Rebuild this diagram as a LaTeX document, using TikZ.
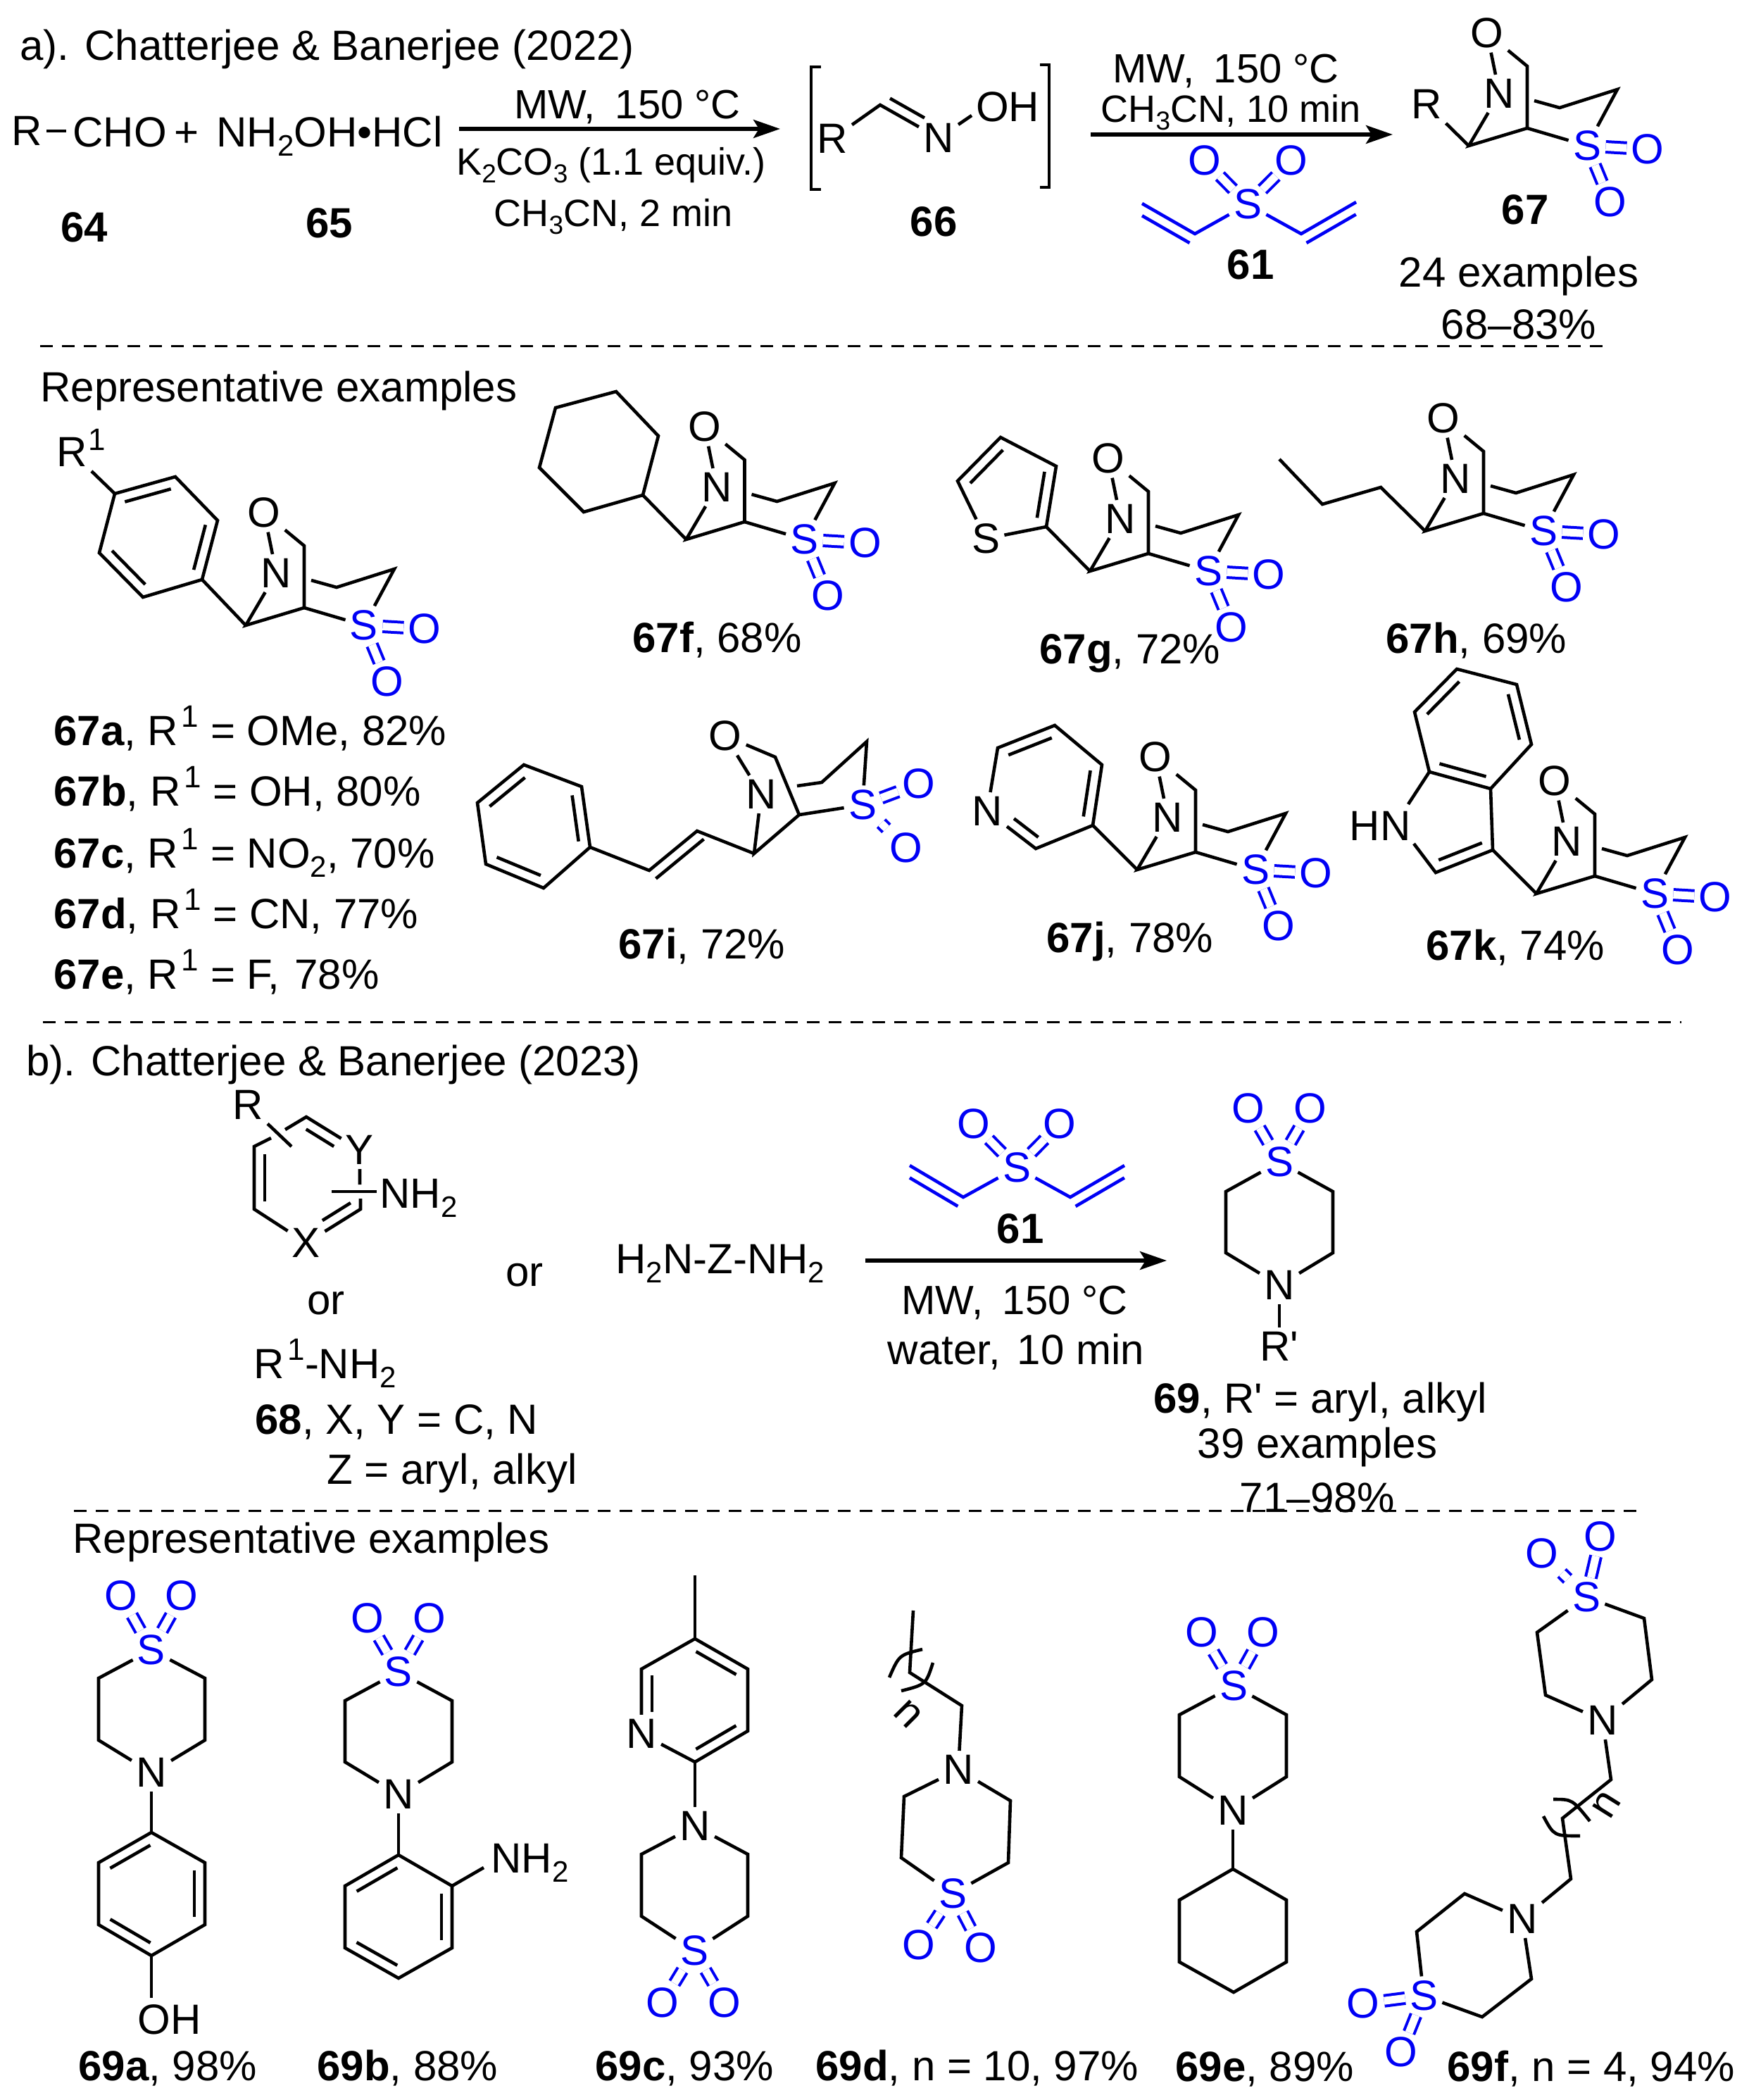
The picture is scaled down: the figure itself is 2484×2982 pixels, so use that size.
\documentclass[tikz,border=0pt]{standalone}
\usepackage{fontspec}
\setmainfont{Liberation Sans}
\newfontfamily\plainf{Liberation Sans}
\usetikzlibrary{calc,arrows.meta}
\definecolor{sblue}{RGB}{0,0,245}
\newcommand{\sbs}[1]{\raisebox{-0.22em}{\fontsize{21}{24}\selectfont #1}}
\newcommand{\sps}[1]{\hspace{0.08em}\raisebox{0.42em}{\fontsize{22}{24}\selectfont #1}}
\newcommand{\csbs}[1]{\raisebox{-0.22em}{\fontsize{18.5}{22}\selectfont #1}}
\newcommand{\apos}{{\plainf '}}
\tikzset{
  every node/.style={font=\fontsize{30}{36}\selectfont},
  atom/.style={inner sep=3pt,text=black},
  satom/.style={inner sep=3pt,text=sblue},
  lab/.style={anchor=base west,inner sep=0pt},
  clab/.style={anchor=base,inner sep=0pt},
  bond/.style={draw=black,line width=2.3pt,line join=miter},
  vbond/.style={draw=sblue,line width=2.3pt,line join=miter},
  sdouble/.style={draw=sblue,line width=2pt,double=white,double distance=5.5pt},
  vdouble/.style={sdouble,shorten >=-4pt,shorten <=-4pt},
  rxn/.style={draw=black,line width=2.6pt,-{Stealth[length=19pt,width=13pt,inset=4pt]}},
  brk/.style={draw=black,line width=2.4pt,line join=miter},
  sep/.style={draw=black,line width=1.5pt,dash pattern=on 9pt off 6.5pt},
  cond/.style={font=\fontsize{27}{32}\selectfont}
}
% inner line of a double bond, on the right-hand side (on screen) of a->b
\newcommand{\ilf}[4]{\draw[bond] ($(#1)!#3!(#2)!7.5pt!-90:(#2)$) -- ($(#2)!#4!(#1)!7.5pt!90:(#1)$);}
\newcommand{\il}[2]{\ilf{#1}{#2}{0.12}{0.12}}
\newcommand{\vil}[4]{\draw[vbond] ($(#1)!#3!(#2)!7.5pt!-90:(#2)$) -- ($(#2)!#4!(#1)!7.5pt!90:(#1)$);}
% bicyclic isoxazolidine sulfone core, placed by its lower-left carbon
\newcommand{\oxcore}[3]{%
  \begin{scope}[shift={(#2,#3)}]
    \coordinate (#1-b) at (0,0);
    \coordinate (#1-t) at (83,-113);
    \coordinate (#1-c) at (83,-25);
    \coordinate (#1-f) at (93,-64);
    \coordinate (#1-d) at (129,-54);
    \coordinate (#1-e) at (211,-80);
    \node[atom] (#1-n) at (43.5,-74) {N};
    \node[atom] (#1-o) at (26,-160) {O};
    \node[satom] (#1-s) at (168,0) {S};
    \node[satom] (#1-p) at (254,5) {O};
    \node[satom] (#1-q) at (201,80) {O};
    \draw[bond] (#1-o) -- (#1-t) -- (#1-c) -- (#1-b) -- (#1-n) -- (#1-o);
    \draw[bond] (#1-c) -- (#1-s);
    \draw[bond] (#1-f) -- (#1-d) -- (#1-e) -- (#1-s);
    \draw[sdouble] (#1-s) -- (#1-p);
    \draw[sdouble] (#1-s) -- (#1-q);
  \end{scope}}
% thiomorpholine dioxide: prefix, S, N, O, O, then ring carbons S-c1-c2-N-c3-c4-S
\newcommand{\tmring}[9]{%
  \node[satom] (#1-s) at (#2) {S};
  \node[atom] (#1-n) at (#3) {N};
  \node[satom] (#1-o) at (#4) {O};
  \node[satom] (#1-p) at (#5) {O};
  \coordinate (#1-1) at (#6);
  \coordinate (#1-2) at (#7);
  \coordinate (#1-3) at (#8);
  \coordinate (#1-4) at (#9);
  \draw[bond] (#1-s) -- (#1-1) -- (#1-2) -- (#1-n) -- (#1-3) -- (#1-4) -- (#1-s);
  \draw[sdouble] (#1-s) -- (#1-o);
  \draw[sdouble] (#1-s) -- (#1-p);}
\begin{document}
\begin{tikzpicture}[x=0.5pt,y=-0.5pt]
\path[use as bounding box,fill=white] (0,0) rectangle (2484,2982);

% ---------- a) header
\node[lab] (ta) at (28,85) {a). Chatterjee \& Banerjee (2022)};
\node[atom] (r64) at (38,186) {R};
\node[lab] (cho) at (103,208) {CHO};
\coordinate (cho-w) at (94,186);
\draw[bond] (r64) -- (cho-w);
\node[lab] (plus) at (247,208) {+};
\node[lab] (nh2oh) at (307,208) {NH\sbs{2}OH•HCl};
\node[clab] (l64) at (120,343) {\textbf{64}};
\node[clab] (l65) at (468,337) {\textbf{65}};
\coordinate (a1s) at (652,183);
\coordinate (a1e) at (1108,183);
\draw[rxn] (a1s) -- (a1e);
\node[clab,font=\fontsize{29}{36}\selectfont] (c1a) at (891,168) {MW,\hspace{0.48em}150 °C};
\node[clab,cond] (c1b) at (868,248) {K\csbs{2}CO\csbs{3} (1.1 equiv.)};
\node[clab,cond] (c1c) at (871,321) {CH\csbs{3}CN, 2 min};

% ---------- 66
\coordinate (lb1) at (1166,95);
\coordinate (lb2) at (1152,95);
\coordinate (lb3) at (1152,269);
\coordinate (lb4) at (1166,269);
\draw[brk] (lb1) -- (lb2) -- (lb3) -- (lb4);
\coordinate (rb1) at (1477,92);
\coordinate (rb2) at (1490,92);
\coordinate (rb3) at (1490,266);
\coordinate (rb4) at (1477,266);
\draw[brk] (rb1) -- (rb2) -- (rb3) -- (rb4);
\node[atom] (r66) at (1182,197) {R};
\coordinate (c66) at (1250,149);
\node[atom] (n66) at (1333,196) {N};
\node[atom] (oh66) at (1431,152) {OH};
\coordinate (oh66e) at (1380,164);
\draw[bond] (r66) -- (c66) -- (n66) -- (oh66e);
\ilf{n66}{c66}{0.33}{0.08}
\node[clab] (l66) at (1326,335) {\textbf{66}};

% ---------- second arrow + 61
\coordinate (a2s) at (1549,191);
\coordinate (a2e) at (1978,191);
\draw[rxn] (a2s) -- (a2e);
\node[clab,font=\fontsize{29}{36}\selectfont] (c2a) at (1741,117) {MW,\hspace{0.48em}150 °C};
\node[clab,cond] (c2b) at (1748,173) {CH\csbs{3}CN, 10 min};
\node[satom] (v1s) at (1772,290) {S};
\node[satom] (v1o) at (1711,228) {O};
\node[satom] (v1p) at (1834,228) {O};
\draw[vdouble] (v1s) -- (v1o);
\draw[vdouble] (v1s) -- (v1p);
\coordinate (v1a) at (1697,332);
\coordinate (v1b) at (1622,289);
\coordinate (v1c) at (1848,332);
\coordinate (v1d) at (1926,287);
\draw[vbond] (v1s) -- (v1a) -- (v1b);
\draw[vbond] (v1s) -- (v1c) -- (v1d);
\vil{v1b}{v1a}{0.1}{0.0}
\vil{v1c}{v1d}{0.0}{0.1}
\node[clab] (l61a) at (1776,396) {\textbf{61}};

% ---------- 67
\oxcore{m}{2086}{207}
\node[atom] (mr) at (2026,148) {R};
\draw[bond] (mr) -- (m-b);
\node[clab] (l67) at (2166,318) {\textbf{67}};
\node[clab] (ex1) at (2157,407) {24 examples};
\node[clab] (ex2) at (2157,481) {68–83\%};
\coordinate (d1a) at (57,491);
\coordinate (d1b) at (2278,491);
\draw[sep] (d1a) -- (d1b);
\node[lab] (rep1) at (57,570) {Representative examples};

% ---------- 67a
\oxcore{a}{349}{888}
\coordinate (a-r1) at (163,701);
\coordinate (a-r2) at (249,677);
\coordinate (a-r3) at (309,739);
\coordinate (a-r4) at (287,823);
\coordinate (a-r5) at (203,848);
\coordinate (a-r6) at (141,785);
\draw[bond] (a-r1) -- (a-r2) -- (a-r3) -- (a-r4) -- (a-r5) -- (a-r6) -- cycle;
\draw[bond] (a-r4) -- (a-b);
\il{a-r1}{a-r2}
\il{a-r3}{a-r4}
\il{a-r5}{a-r6}
\node[atom] (a-R) at (102,642) {R};
\node[lab,font=\fontsize{22}{24}\selectfont] (a-R1) at (125,639) {1};
\draw[bond] (a-R) -- (a-r1);
\node[lab] (l67a) at (76,1058) {\textbf{67a}, R\sps{1} = OMe, 82\%};
\node[lab] (l67b) at (76,1144) {\textbf{67b}, R\sps{1} = OH, 80\%};
\node[lab] (l67c) at (76,1232) {\textbf{67c}, R\sps{1} = NO\sbs{2}, 70\%};
\node[lab] (l67d) at (76,1318) {\textbf{67d}, R\sps{1} = CN, 77\%};
\node[lab] (l67e) at (76,1404) {\textbf{67e}, R\sps{1} = F,\hspace{0.35em}78\%};

% ---------- 67f
\oxcore{f}{974.5}{766}
\coordinate (f-1) at (913,703);
\coordinate (f-2) at (935,619);
\coordinate (f-3) at (875,556);
\coordinate (f-4) at (789,579);
\coordinate (f-5) at (766,664);
\coordinate (f-6) at (829,727);
\draw[bond] (f-1) -- (f-2) -- (f-3) -- (f-4) -- (f-5) -- (f-6) -- cycle;
\draw[bond] (f-1) -- (f-b);
\node[lab] (l67f) at (898,926) {\textbf{67f}, 68\%};

% ---------- 67g
\oxcore{g}{1548}{811}
\coordinate (g-1) at (1486,748);
\coordinate (g-2) at (1500,662);
\coordinate (g-3) at (1421,621);
\coordinate (g-4) at (1360,683);
\node[atom] (g-s2) at (1400,765) {S};
\draw[bond] (g-s2) -- (g-1) -- (g-2) -- (g-3) -- (g-4) -- (g-s2);
\draw[bond] (g-1) -- (g-b);
\il{g-4}{g-3}
\il{g-2}{g-1}
\node[lab] (l67g) at (1476,942) {\textbf{67g}, 72\%};

% ---------- 67h
\oxcore{h}{2024}{754}
\coordinate (h-1) at (1961,692);
\coordinate (h-2) at (1878,716);
\coordinate (h-3) at (1817,652);
\draw[bond] (h-b) -- (h-1) -- (h-2) -- (h-3);
\node[lab] (l67h) at (1968,927) {\textbf{67h}, 69\%};

% ---------- 67i
\coordinate (i-b) at (1071,1212);
\coordinate (i-c) at (1135,1157);
\coordinate (i-t) at (1101,1075);
\coordinate (i-f) at (1132,1116);
\coordinate (i-d) at (1167,1111);
\coordinate (i-e) at (1231,1053);
\node[atom] (i-n) at (1081,1128) {N};
\node[atom] (i-o) at (1030,1045) {O};
\node[satom] (i-s) at (1225,1143) {S};
\node[satom] (i-p) at (1305,1113) {O};
\node[satom] (i-q) at (1287,1204) {O};
\draw[bond] (i-o) -- (i-t) -- (i-c) -- (i-b) -- (i-n) -- (i-o);
\draw[bond] (i-c) -- (i-s);
\draw[bond] (i-f) -- (i-d) -- (i-e) -- (i-s);
\draw[sdouble] (i-s) -- (i-p);
\draw[sdouble] (i-s) -- (i-q);
\coordinate (i-v1) at (990,1180);
\coordinate (i-v2) at (922,1236);
\coordinate (i-r1) at (838,1203);
\coordinate (i-r2) at (772,1261);
\coordinate (i-r3) at (690,1227);
\coordinate (i-r4) at (678,1140);
\coordinate (i-r5) at (744,1086);
\coordinate (i-r6) at (826,1117);
\draw[bond] (i-b) -- (i-v1) -- (i-v2) -- (i-r1) -- (i-r2) -- (i-r3) -- (i-r4) -- (i-r5) -- (i-r6) -- (i-r1);
\ilf{i-v2}{i-v1}{0.0}{0.0}
\il{i-r2}{i-r3}
\il{i-r4}{i-r5}
\il{i-r6}{i-r1}
\node[lab] (l67i) at (878,1361) {\textbf{67i}, 72\%};

% ---------- 67j
\oxcore{j}{1615}{1235}
\coordinate (j-1) at (1552,1172);
\coordinate (j-2) at (1565,1086);
\coordinate (j-3) at (1498,1030);
\coordinate (j-4) at (1417,1062);
\node[atom] (j-n2) at (1402,1152) {N};
\coordinate (j-5) at (1471,1205);
\draw[bond] (j-1) -- (j-2) -- (j-3) -- (j-4) -- (j-n2) -- (j-5) -- (j-1);
\draw[bond] (j-1) -- (j-b);
\il{j-4}{j-3}
\il{j-2}{j-1}
\ilf{j-5}{j-n2}{0.08}{0.42}
\node[lab] (l67j) at (1486,1352) {\textbf{67j}, 78\%};

% ---------- 67k
\oxcore{k}{2182}{1269}
\coordinate (k-1) at (2117,1120);
\coordinate (k-2) at (2175,1057);
\coordinate (k-3) at (2154,972);
\coordinate (k-4) at (2069,950);
\coordinate (k-5) at (2009,1011);
\coordinate (k-6) at (2030,1096);
\coordinate (k-7) at (2120,1207);
\coordinate (k-8) at (2039,1239);
\node[atom] (k-hn) at (1960,1173) {HN};
\coordinate (k-g) at (2000,1142);
\coordinate (k-h) at (2008,1198);
\draw[bond] (k-1) -- (k-2) -- (k-3) -- (k-4) -- (k-5) -- (k-6) -- cycle;
\draw[bond] (k-1) -- (k-7) -- (k-8) -- (k-h);
\draw[bond] (k-6) -- (k-g);
\draw[bond] (k-7) -- (k-b);
\il{k-1}{k-6}
\il{k-5}{k-4}
\il{k-3}{k-2}
\il{k-7}{k-8}
\node[lab] (l67k) at (2025,1363) {\textbf{67k}, 74\%};

\coordinate (d2a) at (61,1451);
\coordinate (d2b) at (2388,1451);
\draw[sep] (d2a) -- (d2b);

% ---------- b) header
\node[lab] (tb) at (37,1527) {b). Chatterjee \& Banerjee (2023)};
\node[atom] (x-R) at (352,1569) {R};
\coordinate (x-q) at (414,1628);
\draw[bond] (x-R) -- (x-q);
\coordinate (x-1) at (405,1604);
\coordinate (x-2) at (435,1586);
\node[atom] (x-Y) at (511,1633) {Y};
\coordinate (x-4) at (385,1616);
\coordinate (x-5) at (361,1628);
\coordinate (x-6) at (361,1717);
\node[atom] (x-X) at (435,1765) {X};
\coordinate (x-8) at (512,1717);
\coordinate (x-9) at (512,1702);
\coordinate (x-10) at (511,1682);
\draw[bond] (x-1) -- (x-2) -- (x-Y) -- (x-10);
\draw[bond] (x-4) -- (x-5) -- (x-6) -- (x-X) -- (x-8) -- (x-9);
\il{x-6}{x-5}
\ilf{x-2}{x-Y}{0.1}{0.38}
\ilf{x-8}{x-X}{0.08}{0.4}
\coordinate (x-a) at (471,1692);
\coordinate (x-b) at (535,1692);
\draw[bond] (x-a) -- (x-b);
\node[lab] (x-nh2) at (539,1715) {NH\sbs{2}};
\node[clab] (or1) at (463,1866) {or};
\node[clab] (or2) at (745,1826) {or};
\node[lab] (diam) at (874,1808) {H\sbs{2}N-Z-NH\sbs{2}};
\node[lab] (rnh2) at (360,1957) {R\sps{1}-NH\sbs{2}};
\node[lab] (l68) at (362,2036) {\textbf{68}, X, Y = C, N};
\node[lab] (lz) at (464,2107) {Z = aryl, alkyl};

% ---------- 61 (b)
\node[satom] (v2s) at (1444,1658) {S};
\node[satom] (v2o) at (1383,1596) {O};
\node[satom] (v2p) at (1505,1596) {O};
\draw[vdouble] (v2s) -- (v2o);
\draw[vdouble] (v2s) -- (v2p);
\coordinate (v2a) at (1368,1700);
\coordinate (v2b) at (1292,1655);
\coordinate (v2c) at (1520,1700);
\coordinate (v2d) at (1597,1655);
\draw[vbond] (v2s) -- (v2a) -- (v2b);
\draw[vbond] (v2s) -- (v2c) -- (v2d);
\vil{v2b}{v2a}{0.1}{0.0}
\vil{v2c}{v2d}{0.0}{0.1}
\node[clab] (l61b) at (1449,1765) {\textbf{61}};
\coordinate (a3s) at (1229,1790);
\coordinate (a3e) at (1657,1790);
\draw[rxn] (a3s) -- (a3e);
\node[clab,font=\fontsize{29}{36}\selectfont] (c3a) at (1441,1866) {MW,\hspace{0.48em}150 °C};
\node[clab] (c3b) at (1443,1937) {water,\hspace{0.4em}10 min};

% ---------- 69
\tmring{t}{1817,1650}{1817,1825}{1773,1574}{1861,1574}{1741,1692}{1741,1779}{1893,1779}{1893,1692}
\node[atom] (t-R) at (1817,1912) {R\apos};
\draw[bond] (t-n) -- (t-R);
\node[lab] (l69) at (1638,2006) {\textbf{69}, R\apos{} = aryl, alkyl};
\node[clab] (ex3) at (1871,2070) {39 examples};
\node[clab] (ex4) at (1871,2147) {71–98\%};
\coordinate (d3a) at (105,2145);
\coordinate (d3b) at (2324,2145);
\draw[sep] (d3a) -- (d3b);
\node[lab] (rep2) at (103,2205) {Representative examples};

% ---------- 69a
\tmring{pa}{215,2343}{215,2517}{172,2266}{258,2266}{140,2383}{140,2471}{291,2471}{291,2383}
\coordinate (pa-a) at (215,2602);
\coordinate (pa-b) at (291,2645);
\coordinate (pa-c) at (291,2733);
\coordinate (pa-d) at (215,2777);
\coordinate (pa-e) at (140,2733);
\coordinate (pa-f) at (140,2645);
\draw[bond] (pa-a) -- (pa-b) -- (pa-c) -- (pa-d) -- (pa-e) -- (pa-f) -- cycle;
\draw[bond] (pa-n) -- (pa-a);
\il{pa-b}{pa-c}
\il{pa-d}{pa-e}
\il{pa-f}{pa-a}
\coordinate (pa-g) at (215,2837);
\draw[bond] (pa-d) -- (pa-g);
\node[lab] (pa-oh) at (195,2888) {OH};
\node[lab] (l69a) at (111,2954) {\textbf{69a}, 98\%};

% ---------- 69b
\tmring{pb}{566,2374}{566,2548}{522,2298}{610,2298}{490,2415}{490,2502}{642,2502}{642,2415}
\coordinate (pb-a) at (566,2634);
\coordinate (pb-b) at (642,2678);
\coordinate (pb-c) at (642,2766);
\coordinate (pb-d) at (566,2809);
\coordinate (pb-e) at (490,2766);
\coordinate (pb-f) at (490,2678);
\draw[bond] (pb-a) -- (pb-b) -- (pb-c) -- (pb-d) -- (pb-e) -- (pb-f) -- cycle;
\draw[bond] (pb-n) -- (pb-a);
\il{pb-b}{pb-c}
\il{pb-d}{pb-e}
\il{pb-f}{pb-a}
\coordinate (pb-g) at (687,2652);
\draw[bond] (pb-b) -- (pb-g);
\node[lab] (pb-nh2) at (697,2659) {NH\sbs{2}};
\node[lab] (l69b) at (450,2954) {\textbf{69b}, 88\%};

% ---------- 69c
\tmring{pc}{986,2770}{987,2593}{941,2844}{1029,2844}{911,2721}{911,2633}{1062,2633}{1062,2721}
\coordinate (pc-me) at (987,2237);
\coordinate (pc-a) at (987,2327);
\coordinate (pc-b) at (1062,2370);
\coordinate (pc-c) at (1062,2458);
\coordinate (pc-d) at (987,2502);
\node[atom] (pc-py) at (911,2462) {N};
\coordinate (pc-e) at (911,2370);
\draw[bond] (pc-a) -- (pc-b) -- (pc-c) -- (pc-d) -- (pc-py) -- (pc-e) -- (pc-a);
\draw[bond] (pc-me) -- (pc-a);
\draw[bond] (pc-d) -- (pc-n);
\il{pc-a}{pc-b}
\il{pc-c}{pc-d}
\ilf{pc-py}{pc-e}{0.34}{0.1}
\node[lab] (l69c) at (845,2954) {\textbf{69c}, 93\%};

% ---------- 69d
\tmring{pd}{1353,2689}{1361,2513}{1305,2762}{1393,2766}{1280,2638}{1284,2551}{1435,2557}{1432,2645}
\coordinate (pd-a) at (1297,2287);
\coordinate (pd-b) at (1292,2375);
\coordinate (pd-c) at (1366,2422);
\draw[bond] (pd-a) -- (pd-b) -- (pd-c) -- (pd-n);
\coordinate (pd-p1) at (1310,2342);
\coordinate (pd-p2) at (1277,2350);
\coordinate (pd-p3) at (1263,2382);
\coordinate (pd-p4) at (1325,2361);
\coordinate (pd-p5) at (1315,2392);
\coordinate (pd-p6) at (1280,2401);
\draw[bond] (pd-p1) .. controls (pd-p2) .. (pd-p3);
\draw[bond] (pd-p4) .. controls (pd-p5) .. (pd-p6);
\node[inner sep=0pt,rotate=-45] (pd-nn) at (1290,2434) {n};
\node[lab] (l69d) at (1158,2954) {\textbf{69d}, n = 10, 97\%};

% ---------- 69e
\tmring{pe}{1752,2394}{1751,2571}{1707,2318}{1794,2318}{1675,2435}{1675,2523}{1827,2523}{1827,2435}
\coordinate (pe-a) at (1751,2654);
\coordinate (pe-b) at (1827,2698);
\coordinate (pe-c) at (1827,2786);
\coordinate (pe-d) at (1752,2829);
\coordinate (pe-e) at (1675,2786);
\coordinate (pe-f) at (1675,2698);
\draw[bond] (pe-a) -- (pe-b) -- (pe-c) -- (pe-d) -- (pe-e) -- (pe-f) -- cycle;
\draw[bond] (pe-n) -- (pe-a);
\node[lab] (l69e) at (1669,2955) {\textbf{69e}, 89\%};

% ---------- 69f
\tmring{pf}{2253,2268}{2276,2443}{2190,2206}{2273,2182}{2183,2318}{2195,2407}{2346,2385}{2335,2298}
\tmring{pg}{2022,2834}{2162,2725}{1936,2845}{1990,2914}{2012,2743}{2080,2689}{2175,2810}{2105,2864}
\coordinate (pf-a) at (2288,2527);
\coordinate (pf-b) at (2219,2582);
\coordinate (pf-c) at (2231,2668);
\draw[bond] (pf-n) -- (pf-a) -- (pf-b) -- (pf-c) -- (pg-n);
\coordinate (pf-p1) at (2206,2555);
\coordinate (pf-p2) at (2233,2555);
\coordinate (pf-p3) at (2258,2586);
\coordinate (pf-p4) at (2192,2579);
\coordinate (pf-p5) at (2207,2607);
\coordinate (pf-p6) at (2244,2607);
\draw[bond] (pf-p1) .. controls (pf-p2) .. (pf-p3);
\draw[bond] (pf-p4) .. controls (pf-p5) .. (pf-p6);
\node[inner sep=0pt,rotate=58] (pf-nn) at (2282,2563) {n};
\node[lab] (l69f) at (2055,2955) {\textbf{69f}, n = 4, 94\%};
\end{tikzpicture}
\end{document}
